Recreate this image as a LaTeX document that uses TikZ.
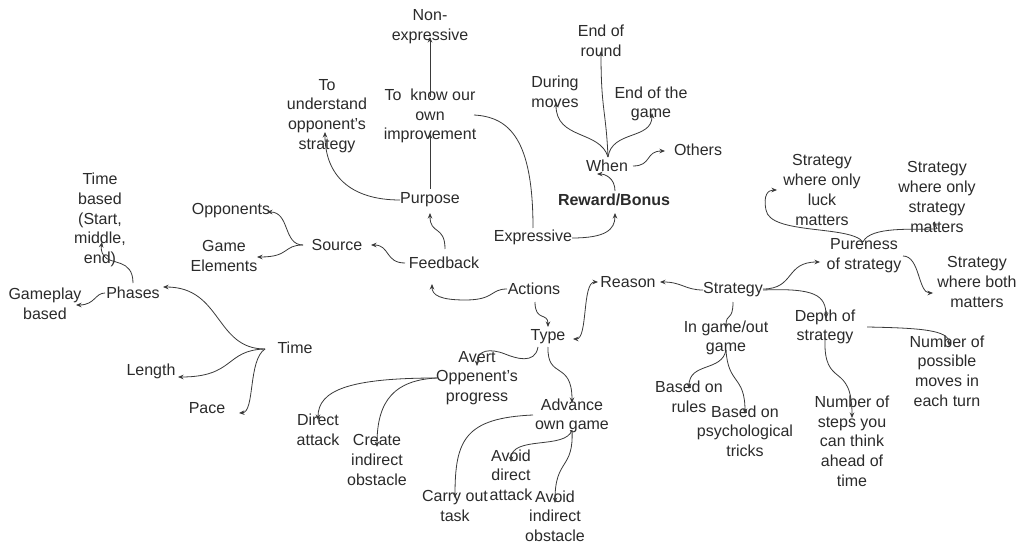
\documentclass[tikz,border=0pt]{standalone}
\usepackage{fontspec}
\setmainfont{Liberation Sans}
\usetikzlibrary{arrows.meta,calc}
\definecolor{txt}{HTML}{2B2B2B}
\definecolor{edgec}{HTML}{3A3A3A}
\begin{document}
\begin{tikzpicture}[x=1pt,y=-1pt,
  lbl/.style={font=\fontsize{16}{19.7}\selectfont, align=center, inner sep=0pt, text=txt},
  arr/.style={draw=edgec, line width=0.8pt, -{Stealth[length=5.5pt,width=4.5pt]}},
  arrboth/.style={draw=edgec, line width=0.8pt, {Stealth[length=5.5pt,width=4.5pt]}-{Stealth[length=5.5pt,width=4.5pt]}},
  plain/.style={draw=edgec, line width=0.8pt}]
\useasboundingbox[fill=white] (0,0) rectangle (1022,545);

% nodes
\node[lbl] (nonexp) at (430,27) {Non-\\expressive};
\node[lbl] (underst) at (327,116) {To\\understand\\opponent's\\strategy};
\node[lbl] (know) at (430,116) {To\ \ know our\\own\\improvement};
\node[lbl] (purpose) at (430,200) {Purpose};
\node[lbl] (source) at (337,245) {Source};
\node[lbl] (opp) at (231,211) {Opponents};
\node[lbl] (gameel) at (224,256) {Game\\Elements};
\node[lbl] (feedback) at (444,263) {Feedback};
\node[lbl] (expr) at (533,237) {Expressive};
\node[lbl,font=\fontsize{16}{19.7}\selectfont\bfseries] (reward) at (614,200) {Reward/Bonus};
\node[lbl] (when) at (607,166) {When};
\node[lbl] (others) at (698,150) {Others};
\node[lbl] (during) at (555,92) {During\\moves};
\node[lbl] (endround) at (601,41) {End of\\round};
\node[lbl] (endgame) at (651,104) {End of the\\game};
\node[lbl] (timebased) at (100,220) {Time\\based\\(Start,\\middle,\\end)};
\node[lbl] (phases) at (133,293) {Phases};
\node[lbl] (gameplay) at (45,304) {Gameplay\\based};
\node[lbl] (time) at (295,348) {Time};
\node[lbl] (length) at (151,371) {Length};
\node[lbl] (pace) at (207,408) {Pace};
\node[lbl] (actions) at (534,289) {Actions};
\node[lbl] (type) at (548,337) {Type};
\node[lbl] (reason) at (628,282) {Reason};
\node[lbl] (strategy) at (733,290) {Strategy};
\node[lbl] (avert) at (477,378) {Avert\\Oppenent's\\progress};
\node[lbl] (advance) at (572,416) {Advance\\own game};
\node[lbl] (direct) at (318,430) {Direct\\attack};
\node[lbl] (create) at (377,460) {Create\\indirect\\obstacle};
\node[lbl] (avoiddir) at (511,475) {Avoid\\direct\\attack};
\node[lbl] (carry) at (455,506) {Carry out\\task};
\node[lbl] (avoidind) at (555,516) {Avoid\\indirect\\obstacle};
\node[lbl] (ingame) at (726,338) {In game/out\\game};
\node[lbl] (depth) at (825,327) {Depth of\\strategy};
\node[lbl] (rules) at (689,397) {Based on\\rules};
\node[lbl] (psych) at (745,431) {Based on\\psychological\\tricks};
\node[lbl] (steps) at (852,441) {Number of\\steps you\\can think\\ahead of\\time};
\node[lbl] (possible) at (947,371) {Number of\\possible\\moves in\\each turn};
\node[lbl] (pureness) at (864,256) {Pureness\\of strategy};
\node[lbl] (luck) at (822,190) {Strategy\\where only\\luck\\matters};
\node[lbl] (onlystrat) at (937,197) {Strategy\\where only\\strategy\\matters};
\node[lbl] (both) at (977,282) {Strategy\\where both\\matters};

% connectors
\draw[arr] ($(purpose)+(0,-11)$) -- ($(know)+(0,17)$);
\draw[arr] ($(know)+(0,-19)$) -- ($(nonexp)+(0,10)$);
\draw[arr] ($(purpose)+(-30,0)$) .. controls +(-50,0) and +(0,43) .. ($(underst)+(-2,16)$);
\draw[arr] ($(feedback)+(1,-14)$) .. controls +(0,-24) and +(0,22) .. ($(purpose)+(0,13)$);
\draw[arr] ($(feedback)+(-39,0)$) .. controls +(-20,0) and +(19,0) .. ($(source)+(34,0)$);
\draw[arr] ($(source)+(-34,0)$) .. controls +(-20,0) and +(23,0) .. ($(opp)+(36,1)$);
\draw[arr] ($(source)+(-34,0)$) .. controls +(-20,0) and +(33,0) .. ($(gameel)+(33,1)$);
\draw[arr] ($(actions)+(-27,0)$) .. controls +(-17,0) and +(30,0) .. ($(actions)+(-69,11)$) .. controls +(-25,0) and +(0,11) .. ($(feedback)+(-12,21)$);
\draw[arr] ($(actions)+(1,13)$) .. controls +(0,20) and +(0,-15) .. ($(type)+(0,-10)$);
\draw[arrboth] ($(type)+(25,2)$) .. controls +(15,0) and +(-16,0) .. ($(reason)+(-30,0)$);
\draw[arr] ($(strategy)+(-30,0)$) .. controls +(-18,0) and +(22,0) .. ($(reason)+(32,0)$);
\draw[arr] ($(strategy)+(30,-1)$) .. controls +(32,0) and +(-35,0) .. ($(pureness)+(-44,6)$);
\draw[arr] ($(strategy)+(30,0)$) .. controls +(52,-2) and +(0,-24) .. ($(depth)+(1,-8)$);
\draw[arr] ($(strategy)+(0,12)$) .. controls +(0,20) and +(0,-17) .. ($(ingame)+(0,-9)$);
\draw[arr] ($(ingame)+(0,12)$) .. controls +(-4,22) and +(0,-27) .. ($(rules)+(0,-8)$);
\draw[arr] ($(ingame)+(0,12)$) .. controls +(2,35) and +(0,-39) .. ($(psych)+(0,-17)$);
\draw[arr] ($(depth)+(0,11)$) .. controls +(-2,52) and +(0,-58) .. ($(steps)+(0,-23)$);
\draw[arr] ($(depth)+(42,0)$) .. controls +(53,1) and +(0,-16) .. ($(possible)+(2,-25)$);
\draw[arr] ($(pureness)+(-1,-14)$) .. controls +(-13,-17) and +(4,25) .. ($(pureness)+(-98,-46)$) .. controls +(-3,-15) and +(-9,0) .. ($(luck)+(-45,0)$);
\draw[arr] ($(pureness)+(-1,-14)$) .. controls +(7,-16) and +(-15,1) .. ($(onlystrat)+(-7,32)$) .. controls +(10,0) and +(4,7) .. ($(onlystrat)+(-4,25)$);
\draw[arr] ($(pureness)+(39,0)$) .. controls +(17,0) and +(-15,0) .. ($(both)+(-44,11)$);
\draw[arr] ($(expr)+(39,1)$) .. controls +(33,0) and +(0,17) .. ($(reward)+(1,13)$);
\draw[plain] ($(expr)+(0,-9)$) .. controls +(0,-88) and +(36,2) .. ($(know)+(44,-1)$);
\draw[arr] ($(reward)+(1,-9)$) .. controls +(0,-13) and +(8,0) .. ($(when)+(-10,8)$);
\draw[arr] ($(when)+(1,-9)$) .. controls +(-8,-27) and +(0,38) .. ($(during)+(1,10)$);
\draw[arr] ($(when)+(1,-9)$) .. controls +(-2,-47) and +(0,59) .. ($(endround)+(0,10)$);
\draw[arr] ($(when)+(1,-9)$) .. controls +(4,-27) and +(0,27) .. ($(endgame)+(1,9)$);
\draw[arr] ($(when)+(26,0)$) .. controls +(19,0) and +(-20,0) .. ($(others)+(-33,1)$);
\draw[arr] ($(phases)+(0,-10)$) .. controls +(0,-25) and +(6,9) .. ($(timebased)+(4,36)$) .. controls +(-3,-4) and +(-1,6) .. ($(timebased)+(2,22)$);
\draw[arr] ($(phases)+(-28,0)$) .. controls +(-10,0) and +(19,0) .. ($(gameplay)+(31,1)$);
\draw[arr] ($(time)+(-30,1)$) .. controls +(-50,0) and +(59,0) .. ($(phases)+(30,-6)$);
\draw[arr] ($(time)+(-30,1)$) .. controls +(-40,1) and +(57,0) .. ($(length)+(27,6)$);
\draw[arr] ($(time)+(-30,1)$) .. controls +(-17,11) and +(16,-1) .. ($(pace)+(32,5)$);
\draw[arr] ($(type)+(-10,10)$) .. controls +(-3,18) and +(10,4) .. ($(type)+(-43,17)$) .. controls +(-15,-6) and +(0,-16) .. ($(avert)+(0,-12)$);
\draw[arr] ($(type)+(0,10)$) .. controls +(-1,33) and +(0,-43) .. ($(advance)+(0,-13)$);
\draw[arr] ($(avert)+(-40,0)$) .. controls +(-87,0) and +(0,-30) .. ($(direct)+(0,-10)$);
\draw[arr] ($(avert)+(-40,0)$) .. controls +(-42,2) and +(0,-47) .. ($(create)+(0,-13)$);
\draw[arr] ($(advance)+(-39,-1)$) .. controls +(-68,3) and +(0,-58) .. ($(carry)+(0,-8)$);
\draw[arr] ($(advance)+(0,14)$) .. controls +(-6,20) and +(0,-27) .. ($(avoiddir)+(0,-13)$);
\draw[arr] ($(advance)+(0,14)$) .. controls +(2,40) and +(0,-45) .. ($(avoidind)+(0,-13)$);
\end{tikzpicture}
\end{document}
